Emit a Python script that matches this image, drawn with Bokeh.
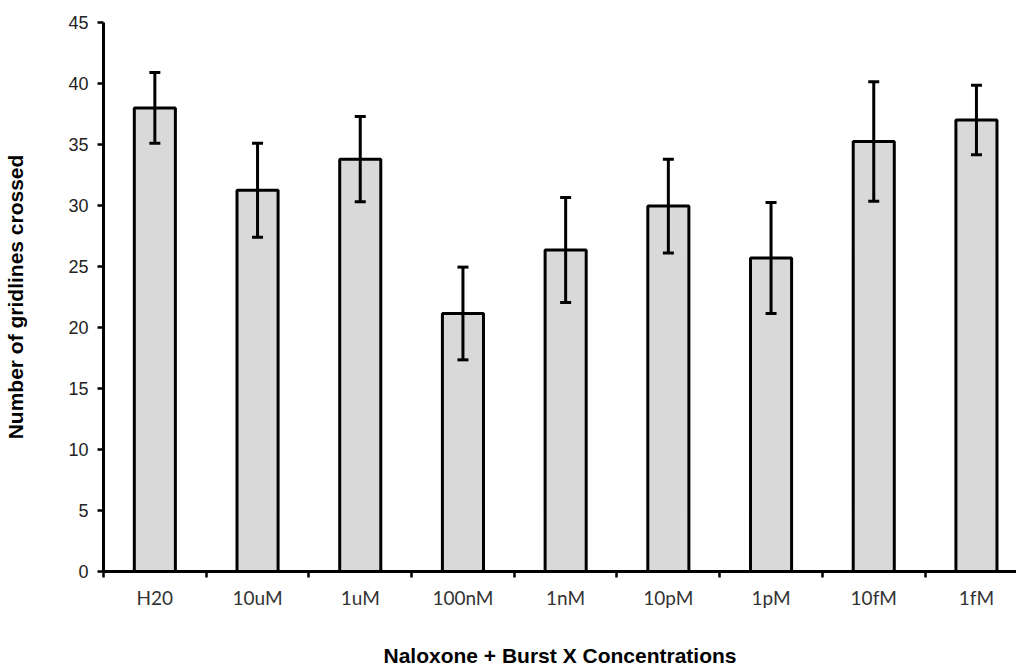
from bokeh.plotting import figure
from bokeh.models import ColumnDataSource, Whisker, FixedTicker, Range1d
from bokeh.embed import file_html
from bokeh.resources import INLINE

# Mean gridlines crossed per treatment, with error bar half-widths
categories = ["H20", "10uM", "1uM", "100nM", "1nM", "10pM", "1pM", "10fM", "1fM"]
means = [38.0, 31.25, 33.8, 21.15, 26.35, 29.95, 25.7, 35.25, 37.0]
errors = [2.9, 3.85, 3.5, 3.8, 4.3, 3.85, 4.55, 4.9, 2.85]
y_ticks = [0, 5, 10, 15, 20, 25, 30, 35, 40, 45]

xs = list(range(len(categories)))
src = ColumnDataSource(dict(
    x=xs,
    top=means,
    upper=[m + e for m, e in zip(means, errors)],
    lower=[m - e for m, e in zip(means, errors)],
))

p = figure(width=1016, height=669, output_backend="svg", toolbar_location=None,
           x_range=Range1d(-0.5, 8.39), y_range=Range1d(0, 45),
           min_border_left=103, min_border_right=0, min_border_top=22,
           min_border_bottom=97)
p.outline_line_color = None
p.grid.visible = False
p.background_fill_color = "white"
p.border_fill_color = "white"

p.vbar(x="x", top="top", bottom=0, width=0.4, source=src,
       fill_color="#d9d9d9", line_color="black", line_width=3)

w = Whisker(base="x", upper="upper", lower="lower", source=src,
            line_color="black", line_width=3, level="overlay")
for head in (w.upper_head, w.lower_head):
    head.size = 11
    head.line_width = 3
    head.line_color = "black"
p.add_layout(w)

# x axis: labels at category centres, short ticks at category boundaries
xa = p.xaxis[0]
xa.ticker = FixedTicker(ticks=xs, minor_ticks=[i - 0.5 for i in range(len(categories) + 1)])
xa.major_label_overrides = {i: c for i, c in enumerate(categories)}
xa.major_tick_line_color = None
xa.major_tick_out = 0
xa.major_tick_in = 0
xa.minor_tick_out = 6
xa.minor_tick_in = 0
xa.minor_tick_line_width = 2.5
xa.minor_tick_line_color = "black"
xa.axis_line_width = 3
xa.axis_line_color = "black"
xa.major_label_text_font = "Lato"
xa.major_label_text_font_size = "19px"
xa.major_label_text_color = "#333333"
xa.major_label_standoff = 8
xa.axis_label = "Naloxone + Burst X Concentrations"
xa.axis_label_text_font = "Liberation Sans"
xa.axis_label_text_font_style = "bold"
xa.axis_label_text_font_size = "21px"
xa.axis_label_text_color = "black"
xa.axis_label_standoff = 32

ya = p.yaxis[0]
ya.ticker = FixedTicker(ticks=y_ticks)
ya.major_tick_out = 6
ya.major_tick_in = 0
ya.major_tick_line_width = 2.5
ya.major_tick_line_color = "black"
ya.minor_tick_line_color = None
ya.axis_line_width = 3
ya.axis_line_color = "black"
ya.major_label_text_font = "Liberation Sans"
ya.major_label_text_font_size = "18px"
ya.major_label_text_color = "#222222"
ya.major_label_standoff = 9
ya.axis_label = "Number of gridlines crossed"
ya.axis_label_text_font = "Liberation Sans"
ya.axis_label_text_font_style = "bold"
ya.axis_label_text_font_size = "21px"
ya.axis_label_text_color = "black"
ya.axis_label_standoff = 38

open("out.html", "w").write(file_html(p, INLINE))
